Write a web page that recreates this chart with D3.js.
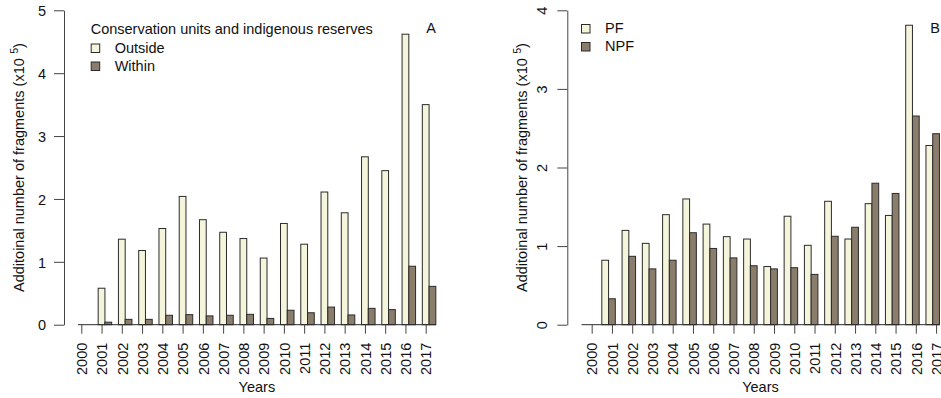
<!DOCTYPE html>
<html>
<head>
<meta charset="utf-8">
<script src="https://cdn.jsdelivr.net/npm/d3@7"></script>
<style>
  body { margin: 0; background: #fff; }
  svg { display: block; font-family: 'Liberation Sans', Arial, sans-serif; }
  .axis text { font-size: 14.5px; fill: #111; }
</style>
</head>
<body>
<div id="chart"></div>
<script>
// data (x10^5 fragments)
const years = ['2000', '2001', '2002', '2003', '2004', '2005', '2006', '2007', '2008',
  '2009', '2010', '2011', '2012', '2013', '2014', '2015', '2016', '2017'];
const outside = [0, 0.58, 1.36, 1.18, 1.53, 2.04, 1.67, 1.47, 1.37, 1.06, 1.61, 1.28,
  2.11, 1.78, 2.67, 2.45, 4.62, 3.50];
const within = [0, 0.04, 0.085, 0.085, 0.15, 0.16, 0.14, 0.15, 0.165, 0.10, 0.23, 0.19,
  0.28, 0.155, 0.26, 0.24, 0.93, 0.61];
const pf = [0, 0.82, 1.20, 1.035, 1.40, 1.60, 1.28, 1.12, 1.09, 0.74, 1.38, 1.01,
  1.57, 1.09, 1.54, 1.39, 3.81, 2.28];
const npf = [0, 0.33, 0.87, 0.71, 0.82, 1.17, 0.97, 0.85, 0.75, 0.71, 0.725, 0.64,
  1.125, 1.24, 1.80, 1.67, 2.655, 2.43];
const ticksA = [0, 1, 2, 3, 4, 5];
const ticksB = [0, 1, 2, 3, 4];
const seriesA = ['Outside', 'Within'];
const seriesB = ['PF', 'NPF'];
const legendTitleA = 'Conservation units and indigenous reserves';

const colors = ['#f5f5dc', '#8b7d6b'];
const W = 941;
const H = 398;
const fs = '14.5px';

const svg = d3.select('#chart')
  .append('svg')
  .attr('width', W)
  .attr('height', H);

function drawPanel(opts) {
  const g = svg.append('g');
  const top = 10.3;
  const bottom = 324.7;

  // bar units: each year = 1 unit gap + 2 bars
  const x = d3.scaleLinear()
    .domain([0, years.length * 3])
    .range([opts.x0, opts.x0 + years.length * 3 * 6.753]);
  const y = d3.scaleLinear().domain([0, opts.ymax]).range([bottom, top]);

  // bars
  [opts.a, opts.b].forEach((vals, k) => {
    g.append('g')
      .selectAll('rect')
      .data(vals)
      .enter()
      .append('rect')
      .attr('x', (d, i) => x(i * 3 + 1 + k))
      .attr('width', x(1) - x(0))
      .attr('y', d => y(d))
      .attr('height', d => y(0) - y(d))
      .attr('fill', colors[k])
      .attr('stroke', '#2b2b2b')
      .attr('stroke-width', 1);
  });

  // baseline
  g.append('line')
    .attr('x1', x(1))
    .attr('x2', x(years.length * 3))
    .attr('y1', y(0))
    .attr('y2', y(0))
    .attr('stroke', '#2b2b2b');

  // x axis (ticks on first bar for A, second bar for B)
  const xt = d3.scalePoint()
    .domain(years)
    .range([x(opts.tickOff), x((years.length - 1) * 3 + opts.tickOff)]);
  const xAxis = g.append('g')
    .attr('class', 'axis')
    .attr('transform', `translate(0,${y(0)})`)
    .call(d3.axisBottom(xt).tickSize(9).tickSizeOuter(0));
  xAxis.select('.domain').remove();
  xAxis.selectAll('line').attr('stroke', '#444');
  xAxis.selectAll('text')
    .attr('transform', 'rotate(-90)')
    .attr('x', -18)
    .attr('y', 0)
    .attr('dy', '0.36em')
    .style('text-anchor', 'end');

  // y axis
  const yAxis = g.append('g')
    .attr('class', 'axis')
    .attr('transform', `translate(${opts.axisX},0)`)
    .call(d3.axisLeft(y).tickValues(opts.ticks).tickSize(10).tickSizeOuter(0).tickFormat(d3.format('d')));
  yAxis.select('.domain').attr('stroke', '#444');
  yAxis.selectAll('line').attr('stroke', '#444');
  if (opts.rotateY) {
    yAxis.selectAll('text')
      .attr('transform', 'rotate(-90)')
      .attr('x', 0)
      .attr('y', -20.6)
      .attr('dy', 0)
      .style('text-anchor', 'middle');
  } else {
    yAxis.selectAll('text').attr('x', -18).attr('dy', '0.36em');
  }

  // axis titles
  const yt = g.append('text')
    .attr('transform', `translate(${opts.axisX - 40.5},${(top + bottom) / 2}) rotate(-90)`)
    .style('text-anchor', 'middle')
    .style('font-size', fs)
    .attr('fill', '#111');
  yt.append('tspan').text('Additoinal number of fragments (x10');
  yt.append('tspan').attr('dy', -6).style('font-size', '10px').text('\u2009 5');
  yt.append('tspan').attr('dy', 6).text(')');

  g.append('text')
    .attr('x', (x(1) + x(years.length * 3)) / 2)
    .attr('y', 392)
    .style('text-anchor', 'middle')
    .style('font-size', fs)
    .attr('fill', '#111')
    .text('Years');

  // legend
  const leg = g.append('g');
  if (opts.legendTitle) {
    leg.append('text')
      .attr('x', opts.legX)
      .attr('y', opts.legY - 18.5)
      .style('font-size', fs)
      .attr('fill', '#111')
      .text(opts.legendTitle);
  }
  opts.names.forEach((name, k) => {
    leg.append('rect')
      .attr('x', opts.legX + 0.5)
      .attr('y', opts.legY + k * 18 - 8.5)
      .attr('width', 8.5)
      .attr('height', 8.5)
      .attr('fill', colors[k])
      .attr('stroke', '#2b2b2b');
    leg.append('text')
      .attr('x', opts.legX + 24)
      .attr('y', opts.legY + k * 18)
      .style('font-size', fs)
      .attr('fill', '#111')
      .text(name);
  });

  g.append('text')
    .attr('x', opts.letterX)
    .attr('y', 33.3)
    .style('text-anchor', 'middle')
    .style('font-size', fs)
    .attr('fill', '#111')
    .text(opts.letter);
}

drawPanel({
  a: outside, b: within, ymax: 5, ticks: ticksA, x0: 71.17, tickOff: 1.5,
  axisX: 64, rotateY: false, names: seriesA, legendTitle: legendTitleA,
  legX: 90.7, legY: 52.5, letter: 'A', letterX: 431,
});

drawPanel({
  a: pf, b: npf, ymax: 4, ticks: ticksB, x0: 574.8, tickOff: 2.5,
  axisX: 567.3, rotateY: true, names: seriesB, legendTitle: null,
  legX: 581, legY: 33, letter: 'B', letterX: 935,
});
</script>
</body>
</html>
